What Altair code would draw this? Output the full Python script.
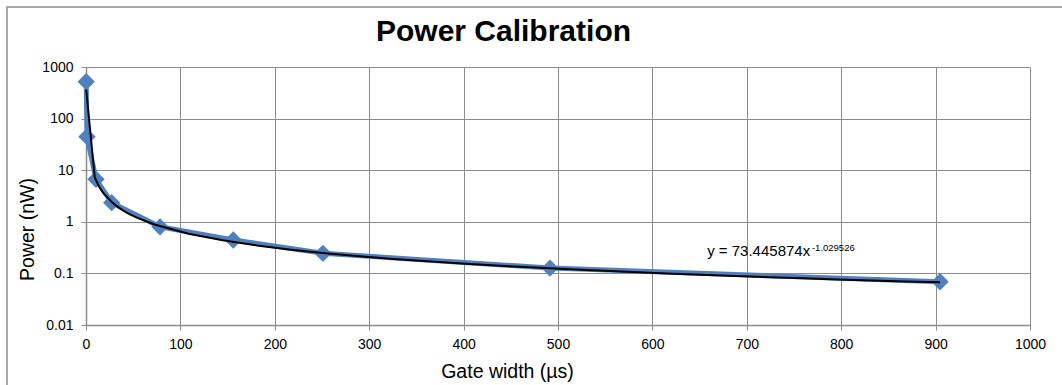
import altair as alt
import pandas as pd

# Data
gate_width_us = [0.2, 1, 10.6, 27.2, 78.4, 156, 251, 491.5, 904.7]
power_nw = [519, 44.6, 6.67, 2.35, 0.80, 0.444, 0.245, 0.127, 0.069]

x_ticks = [0, 100, 200, 300, 400, 500, 600, 700, 800, 900, 1000]
y_ticks = [0.01, 0.1, 1, 10, 100, 1000]

chart_title = "Power Calibration"
x_title = "Gate width (µs)"
y_title = "Power (nW)"
eq_main = "y = 73.445874x"
eq_sup = "-1.029526"

df = pd.DataFrame({"x": gate_width_us, "y": power_nw})

BLUE = "#4F81BD"
GRID = "#8c8c8c"
FONT = "Liberation Sans"

x_enc = alt.X(
    "x:Q",
    scale=alt.Scale(domain=[0, 1000], nice=False),
    axis=alt.Axis(
        values=x_ticks,
        format="d",
        title=x_title,
        titleX=421,
        titleY=52,
        titleAlign="center",
        titleBaseline="alphabetic",
        titleFontSize=19.5,
        titleFontWeight="normal",
        labelPadding=7,
        labelFlush=False,
        labelOverlap=False,
    ),
)
y_enc = alt.Y(
    "y:Q",
    scale=alt.Scale(type="log", domain=[0.01, 1000], nice=False),
    axis=alt.Axis(
        values=y_ticks,
        format="~g",
        title=y_title,
        titleX=-53,
        titleY=162,
        titleAngle=-90,
        titleAlign="center",
        titleBaseline="alphabetic",
        titleFontSize=19.5,
        titleFontWeight="normal",
        labelPadding=8,
        labelFlush=False,
        labelOverlap=False,
    ),
)

base = alt.Chart(df)

series_line = base.mark_line(color=BLUE, strokeWidth=5).encode(x=x_enc, y=y_enc)
series_pts = base.mark_point(
    shape="diamond", filled=True, size=300, color=BLUE, opacity=1
).encode(x="x:Q", y="y:Q")
trend = (
    base.transform_regression("x", "y", method="pow")
    .mark_line(color="black", strokeWidth=2)
    .encode(x="x:Q", y="y:Q")
)

one = pd.DataFrame({"k": [0]})
eq1 = alt.Chart(one).mark_text(
    text=eq_main, fontSize=15, align="left", baseline="alphabetic", color="black", font=FONT
).encode(x=alt.datum(658), y=alt.datum(0.217))
eq2 = alt.Chart(one).mark_text(
    text=eq_sup, fontSize=9.5, align="left", baseline="alphabetic", color="black", font=FONT
).encode(x=alt.datum(769), y=alt.datum(0.275))

title_txt = alt.Chart(one).mark_text(
    text=chart_title, fontSize=30, fontWeight="bold", align="center",
    baseline="alphabetic", color="black", font=FONT
).encode(x=alt.value(417.5), y=alt.value(-26))

border = alt.Chart(one).mark_rect(
    fill="white", fillOpacity=0, stroke=GRID, strokeWidth=1.5
).encode(x=alt.value(-79), x2=alt.value(1100), y=alt.value(-60), y2=alt.value(420))

chart = (
    alt.layer(border, series_line, series_pts, trend, eq1, eq2, title_txt)
    .properties(
        width=944,
        height=258,
        autosize=alt.AutoSizeParams(type="none"),
        padding={"left": 86, "top": 67, "right": 32, "bottom": 60},
        background="white",
    )
    .configure_view(strokeWidth=0)
    .configure_axis(
        gridColor=GRID,
        gridWidth=1,
        domainColor=GRID,
        domainWidth=1.5,
        tickColor=GRID,
        tickSize=5,
        labelColor="black",
        labelFontSize=14,
        labelFont=FONT,
        titleFont=FONT,
        titleColor="black",
        grid=True,
    )
)

chart.save("out.html", embed_options={"renderer": "svg", "actions": False})
